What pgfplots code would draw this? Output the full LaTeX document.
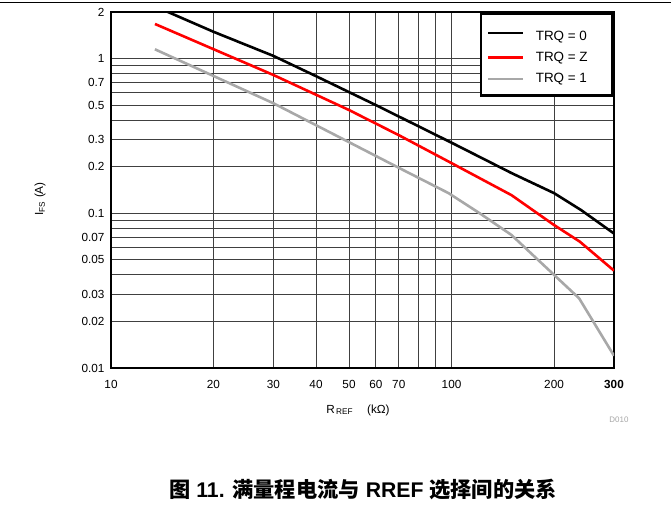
\documentclass[border=0pt]{standalone}
\usepackage{pgfplots}
\pgfplotsset{compat=1.18}
\usepackage{fontspec}
\setmainfont{Liberation Sans}
\newfontfamily\cjk{Noto Sans CJK SC}
\newfontfamily\cjkb{Noto Sans CJK SC Bold}
\definecolor{trqone}{HTML}{A8A8A8}
\begin{document}
\begin{tikzpicture}
\path[use as bounding box] (0,0) rectangle (671bp,-508bp);
\draw[line width=0.8bp] (0,-2bp) -- (671bp,-2bp);
\begin{axis}[
  at={(111bp,-368bp)}, anchor=south west,
  scale only axis, width=503bp, height=356bp,
  xmode=log, ymode=log,
  xmin=10, xmax=300, ymin=0.01, ymax=2,
  xtick={10,20,30,40,50,60,70,80,90,100,200,300},
  xticklabels={10,20,30,40,50,60,70,,,100,200,\textbf{300}},
  ytick={0.01,0.02,0.03,0.04,0.05,0.06,0.07,0.08,0.09,0.1,0.2,0.3,0.4,0.5,0.6,0.7,0.8,0.9,1,2},
  yticklabels={0.01,0.02,0.03,,0.05,,0.07,,,0.1,0.2,0.3,,0.5,,0.7,,,1,2},
  minor xtick={}, minor ytick={},
  major tick length=0pt,
  grid=major,
  major grid style={black!75, line width=1bp},
  axis line style={line width=2.6bp},
  tick label style={font=\fontsize{11.8}{13}\selectfont},
  xticklabel style={yshift=-9bp},
  yticklabel style={xshift=-3bp},
  xlabel={R\textsubscript{\,REF}\hspace{14bp}(kΩ)},
  ylabel={I\textsubscript{FS}\ (A)},
  label style={font=\fontsize{11.8}{13}\selectfont},
  xlabel style={at={(axis description cs:0.491,-0.118)}, anchor=center},
  ylabel style={at={(axis description cs:-0.141,0.475)}, anchor=center, rotate=0},
  legend style={at={(1,1)}, anchor=north east, draw=black, line width=2.6bp,
    fill=white, font=\fontsize{13.5}{15}\selectfont, inner xsep=6bp, inner ysep=9.3bp,
    row sep=6.5bp, column sep=9bp, cells={anchor=west}},
  legend image code/.code={\draw[#1, line width=2.6bp] (0bp,0bp) -- (35bp,0bp);},
  legend cell align=left,
  clip=true,
]
\addplot[black, line width=2.6bp] coordinates {
 (13.5,2.17) (20,1.49) (30,1.04) (40,0.77) (60,0.50) (100,0.286) (150,0.182) (200,0.135) (240,0.105) (300,0.074)};
\addlegendentry{\rule{0pt}{15.5bp}TRQ = 0\hspace*{17bp}}
\addplot[red, line width=2.6bp] coordinates {
 (13.46,1.674) (30,0.783) (50,0.465) (70,0.32) (100,0.211) (150,0.131) (200,0.084) (238,0.0656) (300,0.0426)};
\addlegendentry{TRQ = Z\hspace*{17bp}}
\addplot[trqone, line width=2.6bp] coordinates {
 (13.46,1.148) (30,0.514) (70.6,0.195) (98,0.135) (121,0.1) (150,0.0724) (200,0.04) (237,0.0282) (300,0.012)};
\addlegendentry{TRQ = 1\hspace*{17bp}}
\end{axis}
\node[text=black!35, font=\fontsize{8}{9}\selectfont] at (619bp,-420bp) {D010};
\node[font=\fontsize{21.3}{23}\selectfont\bfseries] at (363bp,-489bp) {{\cjkb 图} 11. {\cjkb 满量程电流与} RREF {\cjkb 选择间的关系}};
\end{tikzpicture}
\end{document}
